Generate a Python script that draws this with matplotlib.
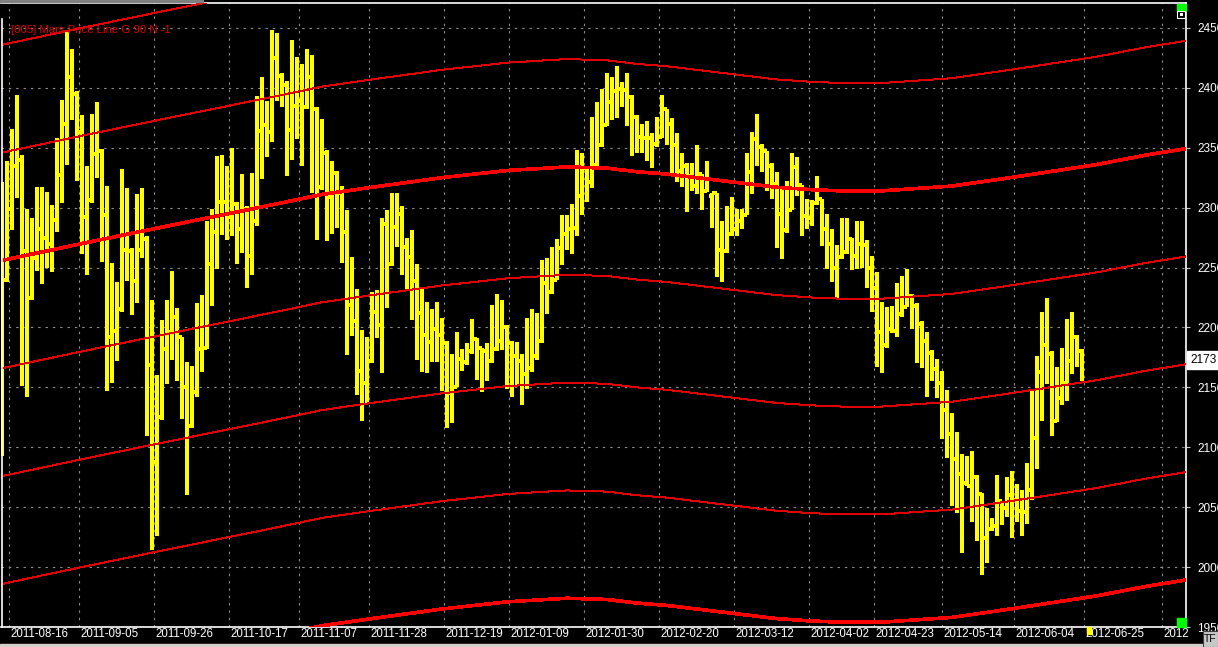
import matplotlib
matplotlib.use("Agg")
import matplotlib.pyplot as plt
from matplotlib.patches import Rectangle
from matplotlib.transforms import Bbox, TransformedBbox, blended_transform_factory

plt.rcParams["font.family"] = ["Liberation Sans", "DejaVu Sans"]

# ------------------------------------
# Data (daily bars)
# ------------------------------------

highs = [2321, 2339, 2366, 2394, 2344, 2299, 2291, 2317, 2317, 2313,
         2302, 2358, 2390, 2447, 2432, 2397, 2377, 2335, 2378, 2388,
         2349, 2318, 2254, 2238, 2332, 2316, 2266, 2311, 2316, 2276,
         2223, 2160, 2206, 2223, 2247, 2216, 2192, 2171, 2168, 2220,
         2227, 2289, 2299, 2343, 2344, 2335, 2350, 2305, 2328, 2301,
         2329, 2393, 2409, 2389, 2448, 2446, 2412, 2406, 2440, 2426,
         2420, 2432, 2427, 2384, 2374, 2348, 2339, 2331, 2318, 2298,
         2259, 2232, 2198, 2192, 2230, 2231, 2291, 2298, 2312, 2312,
         2301, 2275, 2281, 2253, 2233, 2221, 2215, 2221, 2208, 2189,
         2178, 2196, 2182, 2187, 2207, 2191, 2183, 2187, 2219, 2228,
         2223, 2202, 2189, 2188, 2178, 2208, 2215, 2212, 2256, 2258,
         2267, 2274, 2294, 2294, 2303, 2348, 2346, 2333, 2376, 2388,
         2399, 2412, 2409, 2418, 2405, 2412, 2394, 2377, 2370, 2372,
         2362, 2376, 2394, 2382, 2375, 2362, 2346, 2337, 2337, 2352,
         2328, 2339, 2312, 2312, 2289, 2301, 2309, 2299, 2299, 2346,
         2363, 2378, 2353, 2347, 2337, 2330, 2318, 2322, 2346, 2342,
         2319, 2307, 2306, 2326, 2307, 2295, 2282, 2269, 2291, 2291,
         2275, 2289, 2289, 2273, 2260, 2246, 2221, 2217, 2218, 2237,
         2243, 2249, 2228, 2220, 2205, 2196, 2181, 2174, 2164, 2148,
         2129, 2113, 2094, 2093, 2097, 2077, 2062, 2049, 2041, 2077,
         2055, 2075, 2080, 2069, 2064, 2087, 2147, 2176, 2213, 2225,
         2180, 2167, 2183, 2207, 2213, 2194, 2182]

lows = [2093, 2238, 2281, 2308, 2151, 2142, 2223, 2247, 2236, 2250,
        2246, 2280, 2304, 2336, 2373, 2322, 2261, 2244, 2304, 2325,
        2255, 2147, 2154, 2172, 2213, 2239, 2210, 2220, 2258, 2109,
        2014, 2026, 2123, 2153, 2173, 2155, 2124, 2060, 2116, 2142,
        2163, 2182, 2218, 2249, 2277, 2273, 2276, 2253, 2262, 2233,
        2244, 2285, 2324, 2342, 2355, 2389, 2384, 2326, 2340, 2357,
        2335, 2382, 2312, 2273, 2315, 2272, 2278, 2283, 2254, 2177,
        2193, 2144, 2122, 2137, 2170, 2191, 2162, 2216, 2251, 2267,
        2244, 2231, 2206, 2173, 2163, 2162, 2171, 2171, 2147, 2116,
        2120, 2150, 2164, 2169, 2178, 2156, 2146, 2155, 2170, 2180,
        2181, 2149, 2142, 2152, 2135, 2149, 2163, 2173, 2187, 2211,
        2228, 2240, 2252, 2265, 2261, 2276, 2294, 2305, 2316, 2334,
        2351, 2368, 2373, 2375, 2384, 2368, 2343, 2346, 2346, 2339,
        2333, 2351, 2358, 2352, 2328, 2321, 2317, 2296, 2314, 2311,
        2298, 2313, 2283, 2242, 2238, 2262, 2276, 2276, 2282, 2294,
        2311, 2335, 2330, 2314, 2307, 2266, 2257, 2279, 2298, 2310,
        2276, 2282, 2285, 2302, 2268, 2249, 2238, 2224, 2257, 2261,
        2248, 2249, 2250, 2233, 2213, 2167, 2162, 2183, 2195, 2192,
        2209, 2217, 2199, 2170, 2166, 2142, 2155, 2141, 2107, 2091,
        2051, 2045, 2012, 2068, 2038, 2022, 1993, 2003, 2030, 2026,
        2035, 2042, 2024, 2038, 2026, 2036, 2056, 2082, 2122, 2153,
        2109, 2121, 2135, 2139, 2161, 2167, 2155]

opens = [2250, 2240, 2299, 2335, 2340, 2264, 2225, 2258, 2282, 2275,
         2270, 2290, 2327, 2370, 2409, 2395, 2363, 2292, 2306, 2345,
         2347, 2294, 2192, 2197, 2215, 2265, 2264, 2239, 2265, 2274,
         2169, 2088, 2125, 2182, 2196, 2209, 2192, 2150, 2118, 2146,
         2182, 2183, 2253, 2280, 2305, 2305, 2292, 2303, 2282, 2299,
         2260, 2289, 2364, 2369, 2363, 2425, 2410, 2402, 2365, 2385,
         2389, 2384, 2409, 2382, 2317, 2346, 2309, 2329, 2312, 2280,
         2219, 2205, 2164, 2154, 2172, 2213, 2202, 2286, 2253, 2284,
         2295, 2267, 2259, 2239, 2212, 2194, 2188, 2199, 2194, 2187,
         2145, 2150, 2174, 2171, 2180, 2190, 2183, 2180, 2172, 2182,
         2189, 2200, 2187, 2176, 2172, 2161, 2166, 2176, 2189, 2237,
         2230, 2240, 2266, 2278, 2282, 2283, 2310, 2333, 2321, 2336,
         2352, 2369, 2388, 2397, 2399, 2398, 2392, 2376, 2359, 2358,
         2358, 2353, 2359, 2382, 2370, 2352, 2331, 2335, 2326, 2318,
         2328, 2314, 2310, 2312, 2265, 2264, 2278, 2282, 2289, 2294,
         2330, 2357, 2351, 2347, 2335, 2320, 2295, 2281, 2298, 2334,
         2319, 2293, 2291, 2304, 2307, 2282, 2270, 2250, 2259, 2263,
         2274, 2260, 2270, 2269, 2250, 2233, 2196, 2185, 2199, 2197,
         2211, 2217, 2226, 2218, 2203, 2189, 2179, 2165, 2154, 2131,
         2111, 2090, 2078, 2070, 2068, 2075, 2061, 2024, 2032, 2034,
         2055, 2049, 2060, 2056, 2047, 2046, 2064, 2108, 2163, 2185,
         2178, 2122, 2141, 2154, 2172, 2192, 2180]

closes = [2209, 2299, 2335, 2363, 2264, 2218, 2258, 2282, 2275, 2270,
          2290, 2327, 2370, 2409, 2408, 2363, 2292, 2275, 2345, 2358,
          2294, 2192, 2197, 2201, 2265, 2291, 2239, 2265, 2292, 2169,
          2088, 2092, 2182, 2196, 2209, 2192, 2150, 2111, 2146, 2182,
          2183, 2253, 2280, 2305, 2305, 2292, 2310, 2282, 2309, 2260,
          2289, 2364, 2369, 2363, 2425, 2426, 2402, 2365, 2385, 2389,
          2378, 2409, 2397, 2307, 2346, 2309, 2329, 2312, 2280, 2219,
          2205, 2164, 2154, 2163, 2213, 2202, 2286, 2230, 2284, 2295,
          2267, 2259, 2239, 2212, 2194, 2188, 2199, 2194, 2187, 2145,
          2150, 2174, 2166, 2180, 2196, 2183, 2180, 2166, 2172, 2189,
          2205, 2197, 2176, 2172, 2161, 2166, 2176, 2189, 2237, 2227,
          2240, 2266, 2278, 2282, 2283, 2310, 2333, 2321, 2320, 2352,
          2369, 2388, 2397, 2399, 2398, 2392, 2376, 2359, 2358, 2358,
          2346, 2359, 2382, 2370, 2352, 2331, 2338, 2326, 2318, 2328,
          2314, 2321, 2312, 2265, 2254, 2272, 2282, 2289, 2294, 2330,
          2357, 2361, 2347, 2338, 2320, 2295, 2276, 2298, 2334, 2319,
          2293, 2291, 2299, 2307, 2282, 2270, 2250, 2250, 2259, 2274,
          2260, 2270, 2269, 2250, 2233, 2196, 2177, 2199, 2197, 2206,
          2217, 2232, 2226, 2212, 2189, 2189, 2165, 2154, 2131, 2111,
          2090, 2078, 2041, 2068, 2085, 2061, 2024, 2024, 2034, 2055,
          2049, 2060, 2056, 2047, 2046, 2064, 2108, 2163, 2185, 2208,
          2122, 2141, 2154, 2172, 2199, 2180, 2173]

# Mars price line: base level read at a few bar positions, repeated every 90
mars_pos = [-1, 16, 30, 43, 56, 64, 74, 88, 101, 113, 121, 127, 133,
            145, 155, 162, 168, 176, 190, 200, 208, 219, 229, 238]
mars_base = [2255, 2270, 2282, 2293, 2304, 2311, 2317, 2325, 2331, 2334,
             2333, 2330, 2328, 2322, 2317, 2315, 2314, 2314, 2318, 2324,
             2329, 2336, 2344, 2350]
mars_offsets = [-360, -270, -180, -90, 0, 90, 180]

date_labels = ["2011-08-16", "2011-09-05", "2011-09-26", "2011-10-17",
               "2011-11-07", "2011-11-28", "2011-12-19", "2012-01-09",
               "2012-01-30", "2012-02-20", "2012-03-12", "2012-04-02",
               "2012-04-23", "2012-05-14", "2012-06-04", "2012-06-25",
               "2012-07-16"]
date_pos = [1.5, 15.5, 30.5, 45.5, 59.5, 73.5, 88.5, 101.5, 116.5, 131.5,
            146.5, 161.5, 174.5, 188, 202.5, 216.5, 232]

price_ticks = list(range(1950, 2451, 50))
last_price = 2173
legend_text = "[005] Mars Price Line G 90 N -1"

# ------------------------------------
# Figure setup (pixel based layout)
# ------------------------------------

W, H = 1218, 647
fig = plt.figure(figsize=(W / 100, H / 100), dpi=100, facecolor="black")


def fx(x):
    return x / W


def fy(y):
    return 1 - y / H


def px_rect(x0, y0, x1, y1, **kw):
    fig.patches.append(Rectangle((fx(x0), fy(y1)), fx(x1) - fx(x0), fy(y0) - fy(y1),
                                 transform=fig.transFigure, figure=fig, **kw))


ax = fig.add_axes([fx(1), fy(627), fx(1186) - fx(1), fy(3) - fy(627)])
ax.set_facecolor("black")
ax.set_xlim(-0.14, 236.86)
ax.set_ylim(1950.8, 2470.8)

for side in ["top", "right", "bottom"]:
    ax.spines[side].set_color("white")
    ax.spines[side].set_linewidth(1.2)
ax.spines["left"].set_visible(False)

# grid
ax.set_yticks(price_ticks)
ax.set_xticks(date_pos)
ax.grid(True, color="#8c8c8c", linestyle=(0, (2.2, 4.4)), linewidth=0.8)
ax.set_axisbelow(True)
ax.tick_params(axis="x", length=0, labelbottom=False)
ax.yaxis.tick_right()
ax.tick_params(axis="y", colors="#c8c8c8", length=3, width=0.8, pad=5,
               labelsize=8.5, labelcolor="white")
ax.set_yticklabels([str(p) for p in price_ticks])

# OHLC bars
x = list(range(len(closes)))
ax.vlines(x, lows, highs, color="#ffff00", linewidth=1.5, antialiased=False, zorder=2)
ax.hlines(opens, [i - 0.45 for i in x], x, color="#ffff00", linewidth=1.5,
          antialiased=False, zorder=2)
ax.hlines(closes, x, [i + 0.5 for i in x], color="#ffff00", linewidth=1.5,
          antialiased=False, zorder=2)

# Mars price lines (thick every 360)
for off in mars_offsets:
    if off % 360 == 0:
        ax.plot(mars_pos, [b + off for b in mars_base], color="#ff0000",
                linewidth=1.9, antialiased=False, zorder=3)
    else:
        ax.plot(mars_pos, [b + off for b in mars_base], color="#e00000",
                linewidth=0.72, antialiased=False, zorder=3)

# last price box
ax.text(1 + 4 / 1185, last_price, str(last_price), transform=ax.get_yaxis_transform(),
        ha="left", va="center", fontsize=8.5, color="black", clip_on=False,
        bbox=dict(boxstyle="square,pad=0.25", fc="white", ec="white"))

# date labels (last one cut off by the price scale)
clip = TransformedBbox(Bbox.from_extents(0, 0, fx(1189), 1), fig.transFigure)
label_tr = blended_transform_factory(ax.transData, fig.transFigure)
for pos, lab in zip(date_pos, date_labels):
    t = ax.text(pos + 0.3, fy(634), lab, transform=label_tr,
                ha="left", va="center", fontsize=8.3, color="white")
    t.set_clip_box(clip)
    t.set_clip_on(True)

# legend text
fig.text(fx(11), fy(30), legend_text, color="#e00000", fontsize=8.2, va="center", ha="left")

# left border and window decorations
fig.lines.append(plt.Line2D([fx(1.5), fx(1.5)], [fy(19), fy(627)], color="white",
                            linewidth=1.2, transform=fig.transFigure))
px_rect(0, 0, 203, 1.5, color="#808080")
px_rect(1177, 4, 1186, 11, color="#00ff00")
px_rect(1177, 11, 1185, 18, facecolor="black", edgecolor="white", linewidth=0.8)
px_rect(1180, 13.5, 1182.5, 15.5, facecolor="white", edgecolor="none")
px_rect(1177, 618, 1186, 627, color="#00ff00")
px_rect(1087, 627, 1091, 634, color="#ffff00")
px_rect(0, 644, 1203, 647, color="#d4d0c8")
px_rect(1203, 631, 1218, 647, facecolor="#c8c8c8", edgecolor="#404040", linewidth=0.8)
fig.text(fx(1210.5), fy(639.5), "TF", fontsize=7.5, color="black", ha="center", va="center")

plt.savefig("out.png", dpi=100, facecolor="black")
plt.close()
